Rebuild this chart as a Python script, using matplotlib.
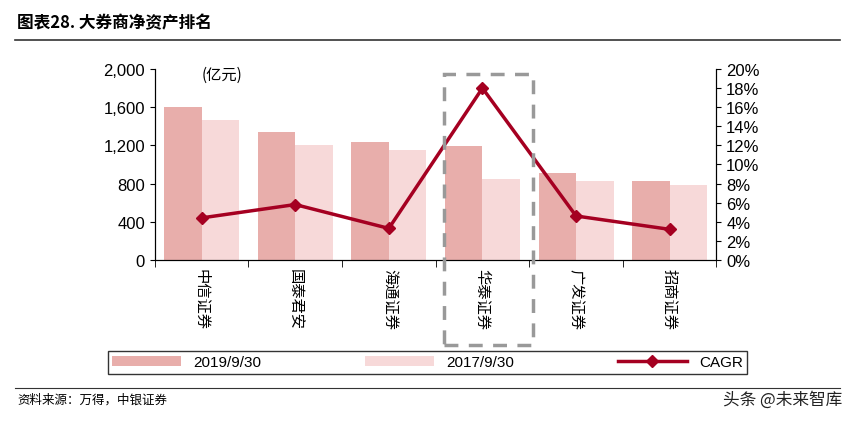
import matplotlib.pyplot as plt
import numpy as np
from matplotlib.patches import Rectangle

plt.rcParams['font.family'] = ['Noto Sans CJK SC', 'DejaVu Sans']

brokers = ["中信证券", "国泰君安", "海通证券", "华泰证券", "广发证券", "招商证券"]
net_2019 = [1600, 1340, 1240, 1190, 910, 830]
net_2017 = [1470, 1200, 1150, 850, 830, 790]
cagr = [4.4, 5.8, 3.3, 18.0, 4.6, 3.2]

fig = plt.figure(figsize=(8.55, 4.27), dpi=100)
ax = fig.add_axes([0.181, 0.389, 0.657, 0.447])
x = np.arange(len(brokers))
w = 0.4
ax.bar(x - w / 2, net_2019, w, color="#E8AEAB", label="2019/9/30")
ax.bar(x + w / 2, net_2017, w, color="#F7D9D9", label="2017/9/30")
ax.set_xlim(-0.5, len(brokers) - 0.5)
ax.set_ylim(0, 2000)
ax.set_yticks(range(0, 2001, 400))
ax.set_yticklabels([f"{v:,}" for v in range(0, 2001, 400)], family="Liberation Sans", fontsize=12)
ax.set_xticks(np.arange(-0.5, len(brokers), 1), minor=True)
ax.set_xticks(x)
ax.set_xticklabels(brokers, rotation=270, fontsize=11)
ax.tick_params(axis="x", which="major", length=0, pad=6)
ax.tick_params(axis="x", which="minor", length=5, direction="out")
ax.spines["top"].set_visible(False)
ax.text(0.0, 1940, "(亿元)", fontsize=11, ha="left", va="center")

ax2 = ax.twinx()
ax2.plot(x, cagr, color="#A50021", lw=2.5, marker="D", ms=6, label="CAGR")
ax2.set_ylim(0, 20)
ax2.set_yticks(range(0, 21, 2))
ax2.set_yticklabels([f"{v}%" for v in range(0, 21, 2)], family="Liberation Sans", fontsize=12)
ax2.spines["top"].set_visible(False)

fig.add_artist(Rectangle((0.519, 0.19), 0.104, 0.635, transform=fig.transFigure,
                         fill=False, ls=(0, (4, 3)), lw=2.5, ec="#999999"))

h1, l1 = ax.get_legend_handles_labels()
h2, l2 = ax2.get_legend_handles_labels()
leg = fig.legend(h1 + h2, l1 + l2, loc="center", ncol=3,
                 frameon=True, fancybox=False, edgecolor="black",
                 prop={"family": "Liberation Sans", "size": 11}, handlelength=4.5,
                 borderpad=0.3, mode="expand",
                 bbox_to_anchor=(0.117, 0.12, 0.766, 0.058), bbox_transform=fig.transFigure)

fig.text(0.02, 0.945, "图表28. 大券商净资产排名", fontsize=12, fontweight="bold", va="center")
fig.add_artist(plt.Line2D([0.018, 0.982], [0.905, 0.905], color="#333333", lw=1.2))
fig.add_artist(plt.Line2D([0.018, 0.982], [0.09, 0.09], color="#333333", lw=0.8))
fig.text(0.02, 0.063, "资料来源：万得，中银证券", fontsize=9, style="italic", va="center")
fig.text(0.985, 0.063, "头条 @未来智库", fontsize=12, ha="right", va="center", color="#222222")

fig.savefig("out.png", dpi=100)
